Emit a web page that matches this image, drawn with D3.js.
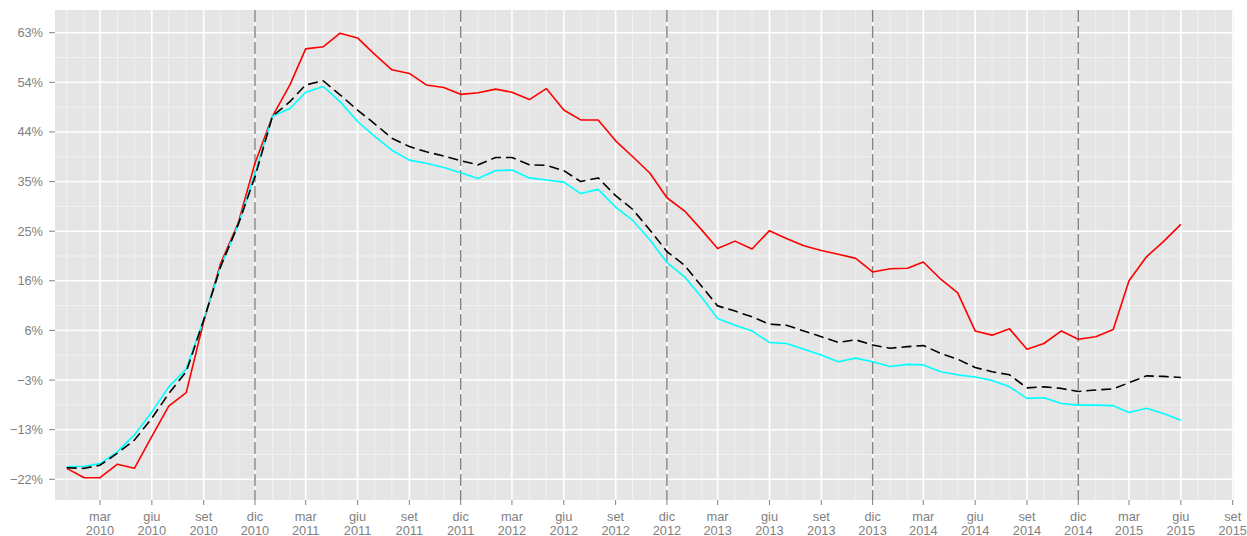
<!DOCTYPE html>
<html>
<head>
<meta charset="utf-8">
<script src="https://cdn.jsdelivr.net/npm/d3@7"></script>
<style>
  body { margin: 0; background: #ffffff; }
  svg { display: block; }
  text { font-family: "Liberation Sans", Arial, Helvetica, sans-serif; }
</style>
</head>
<body>
<svg id="chart" width="1247" height="536"></svg>
<script>
// Monthly observations, Jan 2010 – Jun 2015
const months = [
  "2010-01","2010-02","2010-03","2010-04","2010-05","2010-06","2010-07","2010-08","2010-09","2010-10","2010-11","2010-12",
  "2011-01","2011-02","2011-03","2011-04","2011-05","2011-06","2011-07","2011-08","2011-09","2011-10","2011-11","2011-12",
  "2012-01","2012-02","2012-03","2012-04","2012-05","2012-06","2012-07","2012-08","2012-09","2012-10","2012-11","2012-12",
  "2013-01","2013-02","2013-03","2013-04","2013-05","2013-06","2013-07","2013-08","2013-09","2013-10","2013-11","2013-12",
  "2014-01","2014-02","2014-03","2014-04","2014-05","2014-06","2014-07","2014-08","2014-09","2014-10","2014-11","2014-12",
  "2015-01","2015-02","2015-03","2015-04","2015-05","2015-06"
];

// Percent change, three series
const seriesRed = [
  -20.3,-22.1,-22.1,-19.5,-20.3,-14.2,-8.4,-5.8,7.8,18.9,26.6,38.1,
  47.1,53.1,60.0,60.4,63.0,62.1,59.0,56.0,55.3,53.1,52.6,51.3,
  51.6,52.3,51.7,50.3,52.4,48.3,46.4,46.4,42.4,39.4,36.2,31.5,
  29.0,25.3,21.8,23.2,21.7,25.2,23.7,22.3,21.4,20.7,19.9,17.3,
  17.9,18.0,19.2,15.9,13.3,6.0,5.2,6.4,2.5,3.6,6.0,4.4,
  4.9,6.3,15.6,20.2,23.1,26.4
];
const seriesBlack = [
  -20.2,-20.3,-19.7,-17.4,-14.9,-10.7,-6.0,-1.8,8.1,18.3,26.3,35.5,
  47.1,49.9,53.1,53.9,51.2,48.3,45.7,42.9,41.3,40.3,39.5,38.6,
  37.8,39.2,39.2,37.8,37.7,36.7,34.6,35.3,31.9,29.3,25.3,21.2,
  18.6,14.5,10.8,9.8,8.7,7.3,7.1,6.0,4.9,3.8,4.3,3.3,
  2.7,3.0,3.2,1.7,0.6,-1.0,-1.8,-2.4,-4.9,-4.7,-5.0,-5.6,
  -5.3,-5.1,-3.9,-2.6,-2.7,-2.9
];
const seriesCyan = [
  -20.0,-19.9,-19.4,-17.1,-13.9,-9.5,-4.7,-1.3,8.2,18.3,26.3,36.2,
  47.1,48.6,51.7,52.8,49.9,46.1,43.3,40.6,38.7,38.1,37.3,36.3,
  35.2,36.7,36.8,35.3,34.9,34.5,32.3,33.1,29.7,27.2,23.4,19.1,
  16.4,12.4,8.4,7.1,6.0,3.8,3.6,2.5,1.4,0.1,0.8,0.1,
  -0.8,-0.4,-0.5,-1.8,-2.4,-2.8,-3.5,-4.7,-6.9,-6.8,-7.9,-8.2,
  -8.2,-8.3,-9.6,-8.8,-9.8,-11.1
];

// Axis ticks
const yTickValues = [-22.4, -12.9, -3.4, 6.1, 15.6, 25.1, 34.6, 44.1, 53.6, 63.1];
const yTickLabels = ["\u221222%", "\u221213%", "\u22123%", "6%", "16%", "25%", "35%", "44%", "54%", "63%"];
const monthAbbr = ["gen","feb","mar","apr","mag","giu","lug","ago","set","ott","nov","dic"];
const xTickStart = "2010-03";
const xTickEnd = "2015-09";
const yearMarkers = ["2010-12","2011-12","2012-12","2013-12","2014-12"];

const parse = d3.timeParse("%Y-%m");
const svg = d3.select("#chart");

const panel = { left: 55, right: 1234, top: 10, bottom: 500 };

const x = d3.scaleTime()
  .domain([parse(xTickStart), parse(xTickEnd)])
  .range([100, 1232.7]);
const y = d3.scaleLinear()
  .domain([yTickValues[0], yTickValues[yTickValues.length - 1]])
  .range([479.3, 32.7]);

// Panel background
svg.append("rect")
  .attr("x", panel.left).attr("y", panel.top)
  .attr("width", panel.right - panel.left).attr("height", panel.bottom - panel.top)
  .attr("fill", "#E5E5E5");

const grid = svg.append("g");

// Tick dates every three months
const xTicks = d3.timeMonth.range(parse(xTickStart), d3.timeMonth.offset(parse(xTickEnd), 1), 3);
const xTickSet = new Set(xTicks.map(d => +d));

// Minor vertical grid: each month inside the panel
const allMonths = d3.timeMonth.range(d3.timeMonth.ceil(x.invert(panel.left)), x.invert(panel.right));
grid.selectAll("line.vminor")
  .data(allMonths.filter(d => !xTickSet.has(+d)))
  .join("line")
  .attr("x1", d => x(d)).attr("x2", d => x(d))
  .attr("y1", panel.top).attr("y2", panel.bottom)
  .attr("stroke", "#F2F2F2").attr("stroke-width", 0.9);

// Minor horizontal grid: midway between major ticks
const yMinor = d3.pairs(yTickValues).map(([a, b]) => (a + b) / 2);
grid.selectAll("line.hminor")
  .data(yMinor)
  .join("line")
  .attr("x1", panel.left).attr("x2", panel.right)
  .attr("y1", d => y(d)).attr("y2", d => y(d))
  .attr("stroke", "#F2F2F2").attr("stroke-width", 0.9);

// Major grid
grid.selectAll("line.vmajor")
  .data(xTicks)
  .join("line")
  .attr("x1", d => x(d)).attr("x2", d => x(d))
  .attr("y1", panel.top).attr("y2", panel.bottom)
  .attr("stroke", "#FFFFFF").attr("stroke-width", 1.6);
grid.selectAll("line.hmajor")
  .data(yTickValues)
  .join("line")
  .attr("x1", panel.left).attr("x2", panel.right)
  .attr("y1", d => y(d)).attr("y2", d => y(d))
  .attr("stroke", "#FFFFFF").attr("stroke-width", 1.6);

// Year-end markers
svg.append("g").selectAll("line")
  .data(yearMarkers.map(parse))
  .join("line")
  .attr("x1", d => x(d)).attr("x2", d => x(d))
  .attr("y1", panel.top).attr("y2", panel.bottom)
  .attr("stroke", "#808080").attr("stroke-width", 1.4)
  .attr("stroke-dasharray", "12,4");

// Series lines
const dates = months.map(parse);
const line = d3.line().x((d, i) => x(dates[i])).y(d => y(d));

svg.append("path").datum(seriesRed)
  .attr("d", line).attr("fill", "none")
  .attr("stroke", "#FF0000").attr("stroke-width", 1.6).attr("stroke-linejoin", "round");
svg.append("path").datum(seriesCyan)
  .attr("d", line).attr("fill", "none")
  .attr("stroke", "#00FFFF").attr("stroke-width", 1.6).attr("stroke-linejoin", "round");
svg.append("path").datum(seriesBlack)
  .attr("d", line).attr("fill", "none")
  .attr("stroke", "#000000").attr("stroke-width", 1.6).attr("stroke-linejoin", "round")
  .attr("stroke-dasharray", "10,5");

// Y axis
const yAxis = svg.append("g");
yAxis.selectAll("line")
  .data(yTickValues)
  .join("line")
  .attr("x1", 49).attr("x2", panel.left)
  .attr("y1", d => y(d)).attr("y2", d => y(d))
  .attr("stroke", "#7F7F7F").attr("stroke-width", 1);
yAxis.selectAll("text")
  .data(yTickValues)
  .join("text")
  .attr("x", 43).attr("y", d => y(d))
  .attr("dy", "0.35em")
  .attr("text-anchor", "end")
  .attr("font-size", "12.8px")
  .attr("fill", "#7F7F7F")
  .text((d, i) => yTickLabels[i]);

// X axis
const xAxis = svg.append("g");
xAxis.selectAll("line")
  .data(xTicks)
  .join("line")
  .attr("x1", d => x(d)).attr("x2", d => x(d))
  .attr("y1", panel.bottom).attr("y2", panel.bottom + 5)
  .attr("stroke", "#7F7F7F").attr("stroke-width", 1);
const xLabels = xAxis.selectAll("text")
  .data(xTicks)
  .join("text")
  .attr("text-anchor", "middle")
  .attr("font-size", "12.8px")
  .attr("fill", "#7F7F7F");
xLabels.append("tspan")
  .attr("x", d => x(d)).attr("y", 521)
  .text(d => monthAbbr[d.getMonth()]);
xLabels.append("tspan")
  .attr("x", d => x(d)).attr("y", 534.5)
  .text(d => d.getFullYear());
</script>
</body>
</html>
